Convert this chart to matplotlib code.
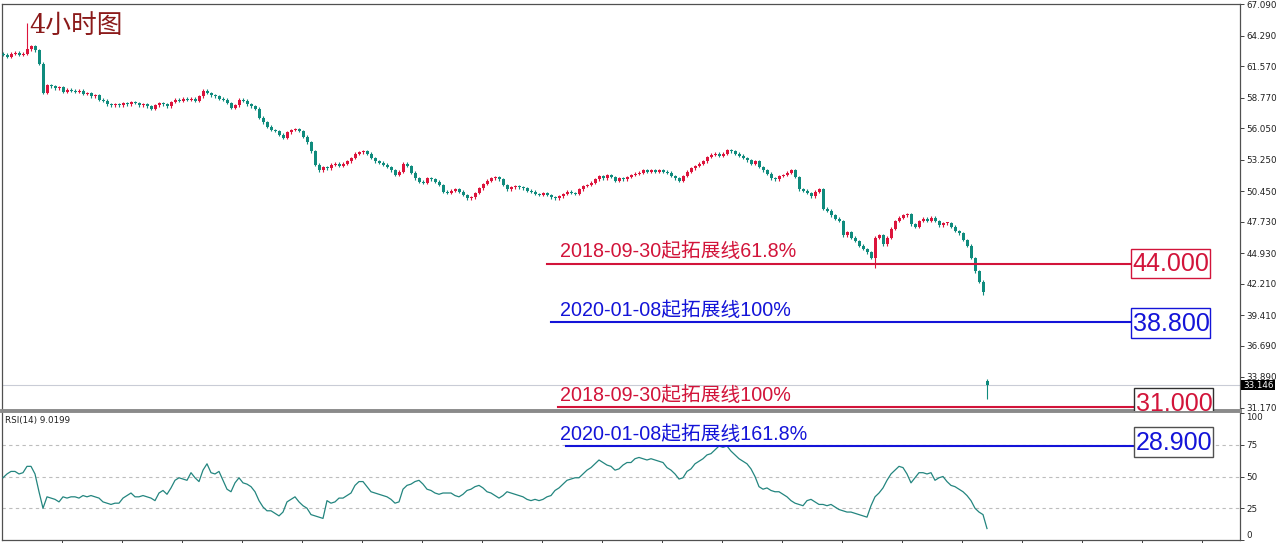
import matplotlib
matplotlib.use("Agg")
import matplotlib.pyplot as plt
from matplotlib.patches import Rectangle
from matplotlib.transforms import blended_transform_factory

# ---------------- data ----------------
closes = [
    62.6, 62.4, 62.7, 62.8, 62.6, 62.7, 63.1, 63.4, 63.0, 61.8,
    59.2, 59.9, 59.8, 59.6, 59.7, 59.3, 59.5, 59.4, 59.3, 59.4,
    59.1, 59.2, 58.9, 59.0, 58.6, 58.5, 58.2, 58.1, 58.2, 58.1,
    58.3, 58.2, 58.4, 58.3, 58.1, 58.2, 58.0, 57.8, 58.1, 58.3,
    58.2, 58.0, 58.4, 58.6, 58.5, 58.7, 58.6, 58.7, 58.5, 58.9,
    59.4, 59.2, 59.0, 58.9, 58.7, 58.6, 58.3, 57.9, 58.1, 58.6,
    58.5, 58.2, 58.0, 57.8, 57.0, 56.6, 56.2, 55.9, 55.8, 55.5,
    55.2, 55.7, 55.9, 56.0, 55.8, 55.3, 54.8, 54.0, 52.8, 52.3,
    52.6, 52.5, 52.8, 52.9, 52.7, 52.9, 53.1, 53.4, 53.8, 53.9,
    54.0, 53.8, 53.4, 53.1, 53.0, 52.8, 52.6, 52.3, 51.9, 52.2,
    52.9, 52.7, 52.1, 51.6, 51.3, 51.2, 51.6, 51.5, 51.3, 51.0,
    50.4, 50.3, 50.5, 50.6, 50.4, 50.1, 49.8, 49.9, 50.3, 50.7,
    51.1, 51.4, 51.6, 51.7, 51.5, 51.0, 50.6, 50.8, 50.9, 50.8,
    50.7, 50.5, 50.4, 50.2, 50.1, 50.3, 50.1, 49.9, 49.8, 50.0,
    50.2, 50.4, 50.3, 50.2, 50.6, 50.9, 51.0, 51.2, 51.5, 51.8,
    51.6, 51.9, 51.7, 51.4, 51.6, 51.5, 51.7, 51.9, 52.0, 52.1,
    52.3, 52.2, 52.3, 52.2, 52.3, 52.2, 52.1, 51.8, 51.6, 51.4,
    51.8, 52.2, 52.5, 52.7, 52.9, 53.1, 53.5, 53.7, 53.8, 53.6,
    53.8, 54.1, 54.0, 53.8, 53.6, 53.4, 53.2, 52.9, 53.1, 52.6,
    52.3, 52.0, 51.6, 51.5, 51.8, 51.9, 52.1, 52.3, 51.7, 50.6,
    50.5, 50.3, 50.0, 50.4, 50.6, 48.9, 48.7, 48.3, 48.0, 47.8,
    46.5, 46.8, 46.3, 46.0, 45.6, 45.3, 45.0, 44.5, 46.3, 46.5,
    45.7, 46.3, 47.1, 47.8, 48.1, 48.3, 48.4, 47.5, 47.3, 47.8,
    48.0, 47.8, 48.1, 47.8, 47.4, 47.6, 47.6, 47.3, 46.9, 46.7,
    46.1, 45.6, 44.5, 43.3, 42.4, 41.5, 33.146,
]
open_overrides = {0: 62.7, 246: 33.5}
high_overrides = {6: 65.45, 246: 33.7}
low_overrides = {218: 43.6, 245: 41.2, 246: 31.9}

rsi = [
    49, 52, 54, 54, 52, 53, 58, 58, 52, 38,
    25, 34, 33, 32, 30, 34, 33, 34, 34, 33,
    35, 34, 35, 34, 33, 30, 29, 28, 29, 29,
    33, 35, 37, 34, 34, 35, 34, 33, 31, 37,
    39, 36, 41, 47, 49, 48, 47, 53, 49, 46,
    55, 60, 53, 52, 54, 47, 40, 38, 45, 49,
    45, 44, 42, 38, 31, 26, 23, 23, 21, 19,
    22, 30, 32, 34, 30, 27, 25, 20, 19, 18,
    17, 31, 29, 30, 33, 33, 35, 37, 43, 46,
    46, 42, 38, 37, 36, 35, 34, 32, 29, 30,
    40, 43, 44, 46, 47, 44, 40, 39, 37, 36,
    37, 37, 37, 35, 34, 36, 39, 40, 42, 43,
    41, 38, 37, 35, 33, 35, 38, 37, 36, 35,
    34, 32, 31, 32, 31, 32, 34, 35, 39, 41,
    44, 47, 48, 49, 49, 52, 55, 57, 60, 63,
    61, 59, 58, 55, 56, 59, 61, 61, 64, 65,
    64, 63, 64, 63, 62, 61, 57, 55, 52, 48,
    49, 54, 56, 60, 62, 64, 67, 68, 71, 74,
    73, 74, 70, 67, 64, 62, 60, 56, 50, 42,
    40, 41, 39, 38, 38, 36, 34, 31, 29, 28,
    27, 31, 32, 30, 28, 28, 27, 28, 26, 24,
    23, 22, 22, 21, 20, 19, 18, 27, 34, 37,
    41, 47, 52, 55, 58, 57, 52, 45, 49, 53,
    53, 52, 53, 47, 49, 50, 46, 43, 42, 40,
    38, 35, 31, 25, 22, 20, 9.0199,
]

price_ticks = [67.090, 64.290, 61.570, 58.770, 56.050, 53.250, 50.450,
               47.730, 44.930, 42.210, 39.410, 36.690, 33.890, 31.170]
rsi_ticks = [100, 75, 50, 25, 0]
last_price = 33.146

levels = [  # (label, level value, label box text, colour key, panel)
    ("2018-09-30起拓展线61.8%", 44.0, "44.000", "red", "main"),
    ("2020-01-08起拓展线100%", 38.8, "38.800", "blue", "main"),
    ("2018-09-30起拓展线100%", 31.2, "31.000", "red", "main"),
    ("2020-01-08起拓展线161.8%", 74.0, "28.900", "blue", "rsi"),
]

# ---------------- figure ----------------
W, H = 1280, 543
fig = plt.figure(figsize=(W / 100, H / 100), dpi=100)
fig.patch.set_facecolor("white")


def fx(px):
    return px / W


def fy(py):
    return 1 - py / H


ax = fig.add_axes([fx(2), fy(411), fx(1240) - fx(2), fy(4) - fy(411)])
ax2 = fig.add_axes([fx(2), fy(540), fx(1240) - fx(2), fy(413) - fy(540)])

UP = "#DC143C"
DOWN = "#0F8B7D"
n = len(closes)
idx = list(range(n))
opens = [open_overrides.get(i, closes[i - 1] if i > 0 else closes[0]) for i in idx]
WICK = 0.12
highs = [high_overrides.get(i, max(opens[i], closes[i]) + WICK) for i in idx]
lows = [low_overrides.get(i, min(opens[i], closes[i]) - WICK) for i in idx]
cols = [UP if closes[i] >= opens[i] else DOWN for i in idx]

ax.vlines(idx, lows, highs, colors=cols, linewidth=0.8, zorder=3)
bottoms = [min(o, c) for o, c in zip(opens, closes)]
heights = [max(abs(c - o), 0.07) for o, c in zip(opens, closes)]
ax.bar(idx, heights, bottom=bottoms, width=0.75, color=cols, linewidth=0, zorder=4)

XMIN, XMAX = -0.25, 309.25
ax.set_xlim(XMIN, XMAX)
ax.set_ylim(30.86, 67.13)
ax2.set_xlim(XMIN, XMAX)
ax2.set_ylim(0, 100)

# price line
ax.axhline(last_price, color="#C9CCD6", linewidth=0.8, zorder=1)

# axes styling
for a in (ax, ax2):
    for s in a.spines.values():
        s.set_color("#505050")
        s.set_linewidth(0.9)
    a.yaxis.tick_right()
    a.tick_params(axis="y", direction="out", length=3, width=0.7, colors="#404040",
                  labelsize=6.3, pad=1.5, labelcolor="#202020")
ax.spines["bottom"].set_color("#8A8A8A")
ax.spines["bottom"].set_linewidth(2.8)
ax2.spines["top"].set_visible(False)

ax.set_yticks(price_ticks)
ax.set_yticklabels([f"{v:.3f}" for v in price_ticks])
ax.set_xticks([])

ax2.set_yticks(rsi_ticks)
ax2.set_yticklabels([str(v) for v in rsi_ticks])
for lab, v in zip(ax2.get_yticklabels(), rsi_ticks):
    if v == 100:
        lab.set_verticalalignment("top")
    elif v == 0:
        lab.set_verticalalignment("bottom")
ax2.set_xticks([14.75 + 15 * k for k in range(20)])
ax2.tick_params(axis="x", direction="out", length=3, width=0.7, colors="#404040",
                labelbottom=False)

for g in (75, 50, 25):
    ax2.axhline(g, color="#BDBDBD", linewidth=0.8, linestyle=(0, (3, 3)), zorder=1)

ax2.plot(range(len(rsi)), rsi, color="#23857F", linewidth=0.9, zorder=3)
ax2.text(fx(5), fy(421), "RSI(14) 9.0199", transform=fig.transFigure, fontsize=6.3,
         color="#202020", va="center", ha="left")

# last price label
fig.patches.append(Rectangle((fx(1241), fy(390)), fx(1275) - fx(1241), fy(380) - fy(390),
                             transform=fig.transFigure, facecolor="black", edgecolor="none"))
fig.text(fx(1243), fy(385), "33.146", fontsize=6.3, color="white", va="center", ha="left")

# title
fig.text(fx(29), fy(25), "4小时图", fontsize=18.5, color="#8B1A1A", va="center", ha="left",
         family=["DejaVu Serif", "Noto Sans CJK SC"])

# level lines and labels
COL = {"red": "#D2143A", "blue": "#1414D8"}
geom = {  # pixel layout for each annotation: line x0, x1, box x0, box y0, box y1, box edge
    0: (547, 1131, 1131, 249, 278, COL["red"]),
    1: (551, 1131, 1131, 308, 338, COL["blue"]),
    2: (558, 1134, 1134, 388, 418, "#303030"),
    3: (566, 1134, 1134, 427, 457, "#505050"),
}
lab_font = ["Liberation Sans", "Noto Sans CJK SC"]
for k, (label, val, boxtxt, ck, panel) in enumerate(levels):
    a = ax if panel == "main" else ax2
    c = COL[ck]
    x0, x1, bx0, by0, by1, ec = geom[k]
    tr = blended_transform_factory(fig.transFigure, a.transData)
    a.plot([fx(x0), fx(x1)], [val, val], color=c, linewidth=1.5, transform=tr,
           zorder=5, clip_on=False)
    a.annotate(label, xy=(fx(560), val), xycoords=tr, xytext=(0, 1.5),
               textcoords="offset points", fontsize=14.2, color=c, family=lab_font,
               va="bottom", ha="left", zorder=6, annotation_clip=False)
    rect = Rectangle((fx(bx0), fy(by1)), fx(bx0 + 79) - fx(bx0), fy(by0) - fy(by1),
                     transform=fig.transFigure, facecolor="white", edgecolor=ec,
                     linewidth=1.0, zorder=7)
    txt_y = fy((by0 + by1) / 2 + 1)
    if panel == "main" and k == 2:
        a.add_patch(rect)
        rect.set_clip_box(a.bbox)
        t = a.text(fx(bx0 + 40), txt_y, boxtxt, transform=fig.transFigure, fontsize=18,
                   color=c, family="Liberation Sans", ha="center", va="center", zorder=8)
        t.set_clip_box(a.bbox)
        t.set_clip_on(True)
    else:
        rect.set_clip_on(False)
        a.add_patch(rect)
        a.text(fx(bx0 + 40), txt_y, boxtxt, transform=fig.transFigure, fontsize=18,
               color=c, family="Liberation Sans", ha="center", va="center", zorder=8,
               clip_on=False)

fig.savefig("out.png", dpi=100, facecolor="white")
